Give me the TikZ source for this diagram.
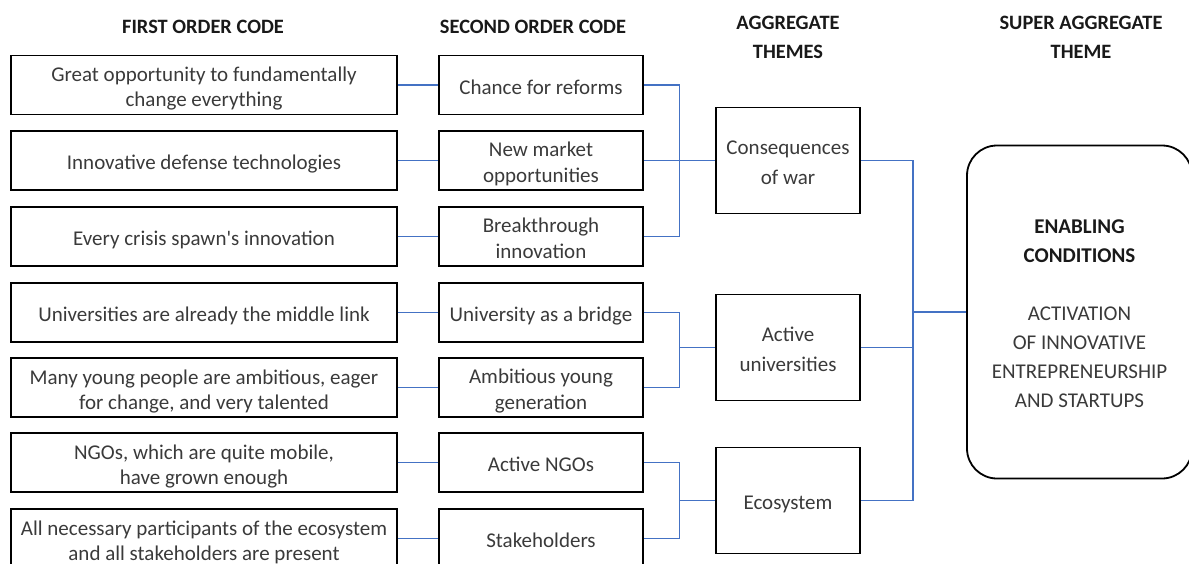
\documentclass[tikz,border=0pt]{standalone}
\usepackage{fontspec}
\setmainfont{Carlito}
\usepackage{tikz}
\usetikzlibrary{positioning,calc}
\definecolor{CodeBlue}{HTML}{4472C4}
\definecolor{CodeInk}{HTML}{3A3A3A}

\begin{document}
\begin{tikzpicture}[x=0.5pt, y=-0.5pt,
    % struts fix the text box, so every box centres its lines the same way
    strut/.style={execute at begin node={\rule{0pt}{#1}},
      execute at end node={\rule[-2.6pt]{0pt}{2.6pt}}},
    head/.style={font=\bfseries\fontsize{10.2}{14.5}\selectfont, align=center, text=black!90},
    code/.style={draw=black, line width=0.9pt, align=center, text=CodeInk,
      font=\fontsize{10.5}{12.5}\selectfont, inner sep=0pt, minimum height=29.5pt},
    first/.style={code, minimum width=193pt, strut=12pt},
    first2/.style={first, strut=24.5pt},
    second/.style={code, minimum width=102pt, font=\fontsize{10.5}{13}\selectfont, strut=12pt},
    second2/.style={second, strut=25pt},
    theme/.style={code, minimum width=72pt, minimum height=53pt,
      font=\fontsize{10.5}{15}\selectfont, strut=12pt},
    theme2/.style={theme, strut=26.5pt},
    link/.style={draw=CodeBlue, line width=0.55pt}
  ]
    \useasboundingbox (0,0) rectangle (1189,563);
    \clip (0,0) rectangle (1189,563);

    % column heads
    \node[head] (h1) at (203,27) {FIRST ORDER CODE};
    \node[head] (h2) at (533,27) {SECOND ORDER CODE};
    \node[head] (h3) at (788,37) {AGGREGATE\\THEMES};
    \node[head] (h4) at (1081,37) {SUPER AGGREGATE\\THEME};

    % first order codes
    \node[first2] (f1) at (204,85) {Great opportunity to fundamentally\\change everything};
    \node[first] (f2) at (204,160.5) {Innovative defense technologies};
    \node[first] (f3) at (204,236.5) {Every crisis spawn\textquotesingle s innovation};
    \node[first] (f4) at (204,312.5) {Universities are already the middle link};
    \node[first2] (f5) at (204,387.5) {Many young people are ambitious, eager\\for change, and very talented};
    \node[first2] (f6) at (204,462.5) {NGOs, which are quite mobile,\\have grown enough};
    \node[first2] (f7) at (204,538.5) {All necessary participants of the ecosystem\\and all stakeholders are present};

    % second order codes
    \node[second] (s1) at (541,85) {Chance for reforms};
    \node[second2] (s2) at (541,160.5) {New market\\opportunities};
    \node[second2] (s3) at (541,236.5) {Breakthrough\\innovation};
    \node[second] (s4) at (541,312.5) {University as a bridge};
    \node[second2] (s5) at (541,387.5) {Ambitious young\\generation};
    \node[second] (s6) at (541,462.5) {Active NGOs};
    \node[second] (s7) at (541,538.5) {Stakeholders};

    % aggregate themes
    \node[theme2] (t1) at (788,160.5) {Consequences\\of war};
    \node[theme2] (t2) at (788,347.5) {Active\\universities};
    \node[theme] (t3) at (788,500.5) {Ecosystem};

    % super aggregate theme
    \node[draw=black, line width=0.9pt, rounded corners=15pt, minimum width=112.5pt,
      minimum height=166.5pt, align=center, text=CodeInk,
      font=\fontsize{10.5}{14.5}\selectfont, strut=98pt] (sup) at (1079.5,312)
      {{\bfseries\color{black!90}ENABLING}\\{\bfseries\color{black!90}CONDITIONS}\\[14.5pt]
       ACTIVATION\\OF INNOVATIVE\\ENTREPRENEURSHIP\\AND STARTUPS};

    % first to second order
    \draw[link] (f1) -- (s1);
    \draw[link] (f2) -- (s2);
    \draw[link] (f3) -- (s3);
    \draw[link] (f4) -- (s4);
    \draw[link] (f5) -- (s5);
    \draw[link] (f6) -- (s6);
    \draw[link] (f7) -- (s7);

    % second order to themes
    \coordinate (j1) at (679.5,160.5);
    \coordinate (j2) at (679.5,347.5);
    \coordinate (j3) at (679.5,500.5);
    \draw[link] (s1.east) -| (j1) |- (s3.east);
    \draw[link] (s2.east) -- (t1.west);
    \draw[link] (s4.east) -| (j2) |- (s5.east);
    \draw[link] (j2) -- (t2.west);
    \draw[link] (s6.east) -| (j3) |- (s7.east);
    \draw[link] (j3) -- (t3.west);

    % themes to the super theme
    \coordinate (j4) at (913,312);
    \draw[link] (t1.east) -| (j4) |- (t3.east);
    \draw[link] (t2.east) -| (j4);
    \draw[link] (j4) -- (sup.west);
  \end{tikzpicture}
\end{document}
